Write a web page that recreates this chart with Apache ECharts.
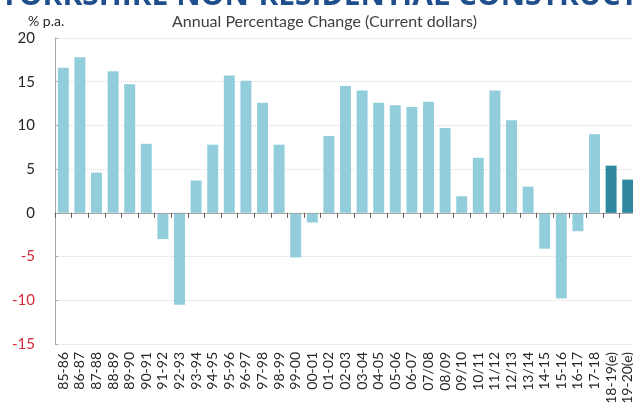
<!DOCTYPE html>
<html>
<head>
<meta charset="utf-8">
<script src="https://cdn.jsdelivr.net/npm/echarts@6/dist/echarts.min.js"></script>
<style>html,body{margin:0;padding:0;background:#fff;overflow:hidden}#c{width:633px;height:412px}</style>
</head>
<body>
<div id="c"></div>
<script>
const categories = ["85-86","86-87","87-88","88-89","89-90","90-91","91-92","92-93","93-94","94-95","95-96","96-97","97-98","98-99","99-00","00-01","01-02","02-03","03-04","04-05","05-06","06-07","07/08","08/09","09/10","10/11","11/12","12/13","13/14","14-15","15-16","16-17","17-18","18-19(e)","19-20(e)"];
const values = [16.6,17.8,4.6,16.2,14.7,7.9,-3.0,-10.5,3.7,7.8,15.7,15.1,12.6,7.8,-5.1,-1.1,8.8,14.5,14.0,12.6,12.3,12.1,12.7,9.7,1.9,6.3,14.0,10.6,3.0,-4.1,-9.8,-2.1,9.0,5.4,3.8];
const estimated = ["18-19(e)","19-20(e)"];
const yTicks = [-15,-10,-5,0,5,10,15,20];

const chart = echarts.init(document.getElementById('c'));
const font = 'Lato, "Open Sans", sans-serif';
chart.setOption({
  animation: false,
  textStyle: {fontFamily: font},
  graphic: [
    {type:'text', x: 0, y: 11, z: 10, style:{text:'YORKSHIRE NON-RESIDENTIAL CONSTRUCTION WORK', fontSize: 30, fontWeight:'bold', fill:'#1f4e8c', verticalAlign: 'bottom', fontFamily:'"Open Sans", sans-serif'}},
    {type:'text', left: 28, top: 14, style:{text:'% p.a.', fontSize: 14, fill:'#262626', fontFamily: font}},
    {type:'text', left: 172, top: 14, style:{text:'Annual Percentage Change (Current dollars)', fontSize: 16, fill:'#404040', fontFamily: font}}
  ],
  grid: {left: 55, right: -3, top: 38, bottom: 68, containLabel: false, outerBoundsMode: 'none'},
  xAxis: [{
    type: 'category',
    data: categories,
    position: 'bottom',
    axisLine: {show: false, onZero: false},
    axisTick: {show: false},
    axisLabel: {rotate: 90, interval: 0, fontSize: 14, color: '#262626', margin: 8, fontFamily: font}
  }, {
    type: 'category',
    data: categories,
    position: 'bottom',
    z: 5,
    axisLine: {show: true, onZero: true, onZeroAxisIndex: 0, lineStyle: {color: '#a6a6a6'}},
    axisTick: {show: true, interval: 0, length: 5, lineStyle: {color: '#6b5a55', width: 1}},
    axisLabel: {show: false}
  }],
  yAxis: {
    type: 'value',
    min: -15, max: 20, interval: 5,
    axisLine: {show: true, lineStyle: {color: '#a6a6a6'}},
    axisTick: {show: true, inside: true, length: 3, lineStyle: {color: '#a6a6a6'}},
    splitLine: {show: true, lineStyle: {color: '#d9d9d9', type: 'dotted'}},
    axisLabel: {
      fontSize: 15, margin: 20, fontFamily: font,
      formatter: v => String(v),
      color: v => (Number(v) < 0 ? '#d42a3a' : '#262626')
    }
  },
  series: [{
    type: 'bar',
    xAxisIndex: 0,
    barCategoryGap: '34%',
    data: values.map((v, i) => ({
      value: v,
      itemStyle: {color: estimated.includes(categories[i]) ? '#2f87a0' : '#92cddc'}
    }))
  }]
});
</script>
</body>
</html>
